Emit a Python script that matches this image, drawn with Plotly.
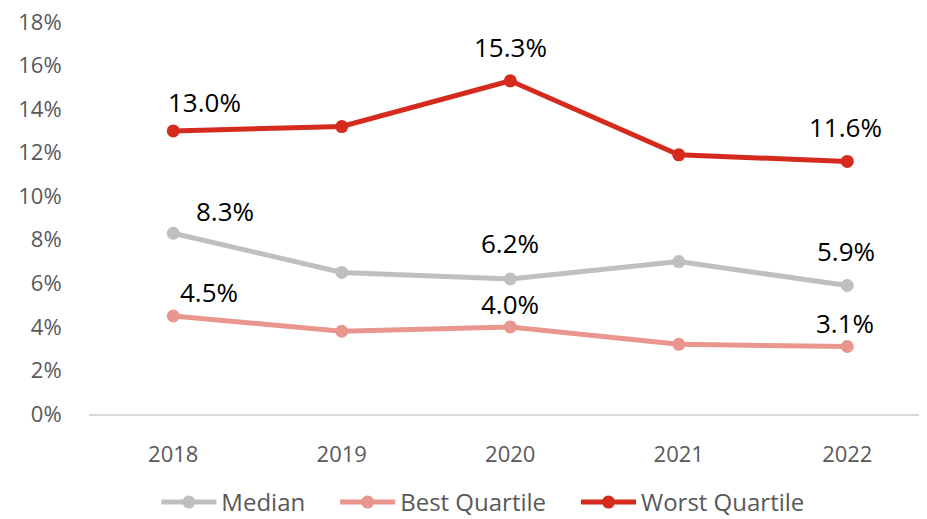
import plotly.graph_objects as go

PCT = chr(37)
NBSP = "\u00a0"

years = ["2018", "2019", "2020", "2021", "2022"]
median = [8.3, 6.5, 6.2, 7.0, 5.9]
best_quartile = [4.5, 3.8, 4.0, 3.2, 3.1]
worst_quartile = [13.0, 13.2, 15.3, 11.9, 11.6]
y_ticks = [0, 2, 4, 6, 8, 10, 12, 14, 16, 18]
y_tick_labels = [str(v) + PCT for v in y_ticks]
labeled_idx = [0, 2, 4]

series = [
    ("Median", median, "#BFBFBF"),
    ("Best Quartile", best_quartile, "#E9968E"),
    ("Worst Quartile", worst_quartile, "#D52B1E"),
]

offsets = {
    "Median": [(52, 22), (0, 36), (-1, 35)],
    "Best Quartile": [(36, 24), (0, 23), (-2, 23)],
    "Worst Quartile": [(31, 29), (0, 34), (-2, 34)],
}

fig = go.Figure()
for n, (name, vals, col) in enumerate(series):
    legend_name = name + (NBSP * 4 if n < len(series) - 1 else "")
    fig.add_trace(go.Scatter(
        x=years, y=vals, name=legend_name, mode="lines+markers",
        line=dict(color=col, width=5),
        marker=dict(color=col, size=13),
    ))

for name, vals, col in series:
    for k, i in enumerate(labeled_idx):
        xs, ys = offsets[name][k]
        fig.add_annotation(
            x=i, y=vals[i], xref="x", yref="y",
            text="{:.1f}".format(vals[i]) + PCT, showarrow=False,
            xshift=xs, yshift=ys,
            font=dict(family="Open Sans", size=26, color="#000000"),
        )

fig.update_layout(
    width=919, height=511,
    margin=dict(l=81, r=0, t=14, b=105, autoexpand=False),
    paper_bgcolor="white", plot_bgcolor="white",
    font=dict(family="Open Sans", size=22, color="#595959"),
    showlegend=True,
    legend=dict(orientation="h", x=0.47, xanchor="center", y=-0.283, yanchor="bottom",
                font=dict(size=24, color="#595959"), itemwidth=55,
                tracegroupgap=0, borderwidth=0),
    xaxis=dict(type="category", range=[-0.5, 4.473], showgrid=False,
               showline=True, linecolor="#D9D9D9", linewidth=2, automargin=False,
               ticks="outside", ticklen=20, tickcolor="rgba(0,0,0,0)",
               tickfont=dict(size=22, color="#595959")),
    yaxis=dict(range=[0, 18], tickmode="array", tickvals=y_ticks, ticktext=y_tick_labels,
               showgrid=False, zeroline=False, showline=False, automargin=False,
               ticklabeloverflow="allow",
               ticks="outside", ticklen=22, tickcolor="rgba(0,0,0,0)",
               tickfont=dict(size=22, color="#595959")),
)

fig.write_html("out.html")
